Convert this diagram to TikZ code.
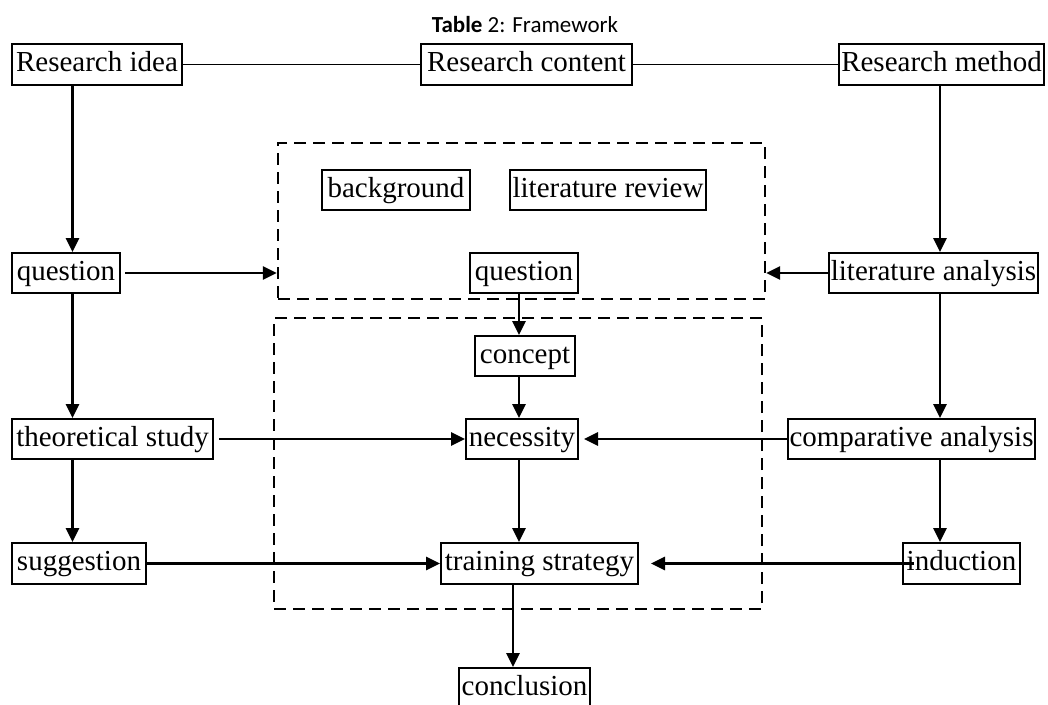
\documentclass[tikz,border=0pt]{standalone}
\usepackage{fontspec}
\setmainfont{Liberation Serif}
\newfontfamily\titlefont{Carlito}
\usetikzlibrary{arrows.meta,calc}
\tikzset{
  box/.style={draw, line width=2pt, inner sep=0pt, font=\fontsize{29}{29}\selectfont, text height=20pt, text depth=6pt, minimum height=40pt},
  arr/.style={line width=2.8pt, -{Triangle[length=14pt,width=13pt]}},
  thinline/.style={line width=1.3pt},
  dbox/.style={draw, line width=2.4pt, dash pattern=on 12pt off 7pt, inner sep=0pt}
}
\begin{document}
\begin{tikzpicture}[x=1pt,y=-1pt]
\useasboundingbox (0,0) rectangle (1048,704);
% title
\node[font=\titlefont\fontsize{23}{23}\selectfont, anchor=base, inner sep=0pt] (title) at (525,32) {\textbf{Table} 2: Framework};
% dashed groups
\node[dbox, minimum width=487pt, minimum height=156pt] (d1) at (521.5,221) {};
\node[dbox, minimum width=488pt, minimum height=291pt] (d2) at (518,463.5) {};
% boxes
\node[box, minimum width=170pt, minimum height=41pt] (ri) at (97,64.5) {Research idea};
\node[box, minimum width=211pt, minimum height=41pt] (rc) at (526.5,64.5) {Research content};
\node[box, minimum width=205pt, minimum height=41pt] (rm) at (941.5,64.5) {Research method};
\node[box, minimum width=148pt] (bg) at (396,190) {background};
\node[box, minimum width=196pt] (lr) at (608,190) {literature review};
\node[box, minimum width=108pt] (q2) at (524,273) {question};
\node[box, minimum width=108pt] (q1) at (66,273) {question};
\node[box, minimum width=209pt] (la) at (933.5,273) {literature analysis};
\node[box, minimum width=100pt] (cp) at (525,356) {concept};
\node[box, minimum width=112pt] (ne) at (522,439) {necessity};
\node[box, minimum width=201pt] (ts) at (112.5,439) {theoretical study};
\node[box, minimum width=247pt] (ca) at (911.5,439) {comparative analysis};
\node[box, minimum width=134pt, minimum height=41pt] (sg) at (79,563.5) {suggestion};
\node[box, minimum width=197pt, minimum height=41pt] (tr) at (539.5,563.5) {training strategy};
\node[box, minimum width=117pt, minimum height=41pt] (in) at (961.5,563.5) {induction};
\node[box, minimum width=131pt] (cl) at (524.5,688) {conclusion};
% column coordinates
\coordinate (lx) at (72.5,0);
\coordinate (rx) at (940,0);
\coordinate (cx) at (519,0);
\coordinate (cx2) at (513,0);
% top lines
\draw[thinline] (ri.east) -- (rc.west);
\draw[thinline] (rc.east) -- (rm.west);
% vertical arrows
\draw[arr] (lx |- ri.south) -- (lx |- q1.north);
\draw[arr] (lx |- q1.south) -- (lx |- ts.north);
\draw[arr] (lx |- ts.south) -- (lx |- sg.north);
\draw[arr] (rx |- rm.south) -- (rx |- la.north);
\draw[arr] (rx |- la.south) -- (rx |- ca.north);
\draw[arr] (rx |- ca.south) -- (rx |- in.north);
\draw[arr] (cx |- q2.south) -- (cx |- cp.north);
\draw[arr] (cx |- cp.south) -- (cx |- ne.north);
\draw[arr] (cx |- ne.south) -- (cx |- tr.north);
\draw[arr] (cx2 |- tr.south) -- (cx2 |- cl.north);
% horizontal arrows
\draw[arr] ([xshift=4pt]q1.east) -- (q1.east -| d1.west);
\draw[arr] (la.west) -- (la.west -| d1.east);
\draw[arr] ([xshift=5pt]ts.east) -- (ne.west);
\draw[arr] (ca.west) -- ([xshift=5pt]ne.east);
\draw[arr] (sg.east) -- (tr.west);
\draw[arr] ([xshift=12pt]in.west) -- ([xshift=12pt]tr.east);
\end{tikzpicture}
\end{document}
